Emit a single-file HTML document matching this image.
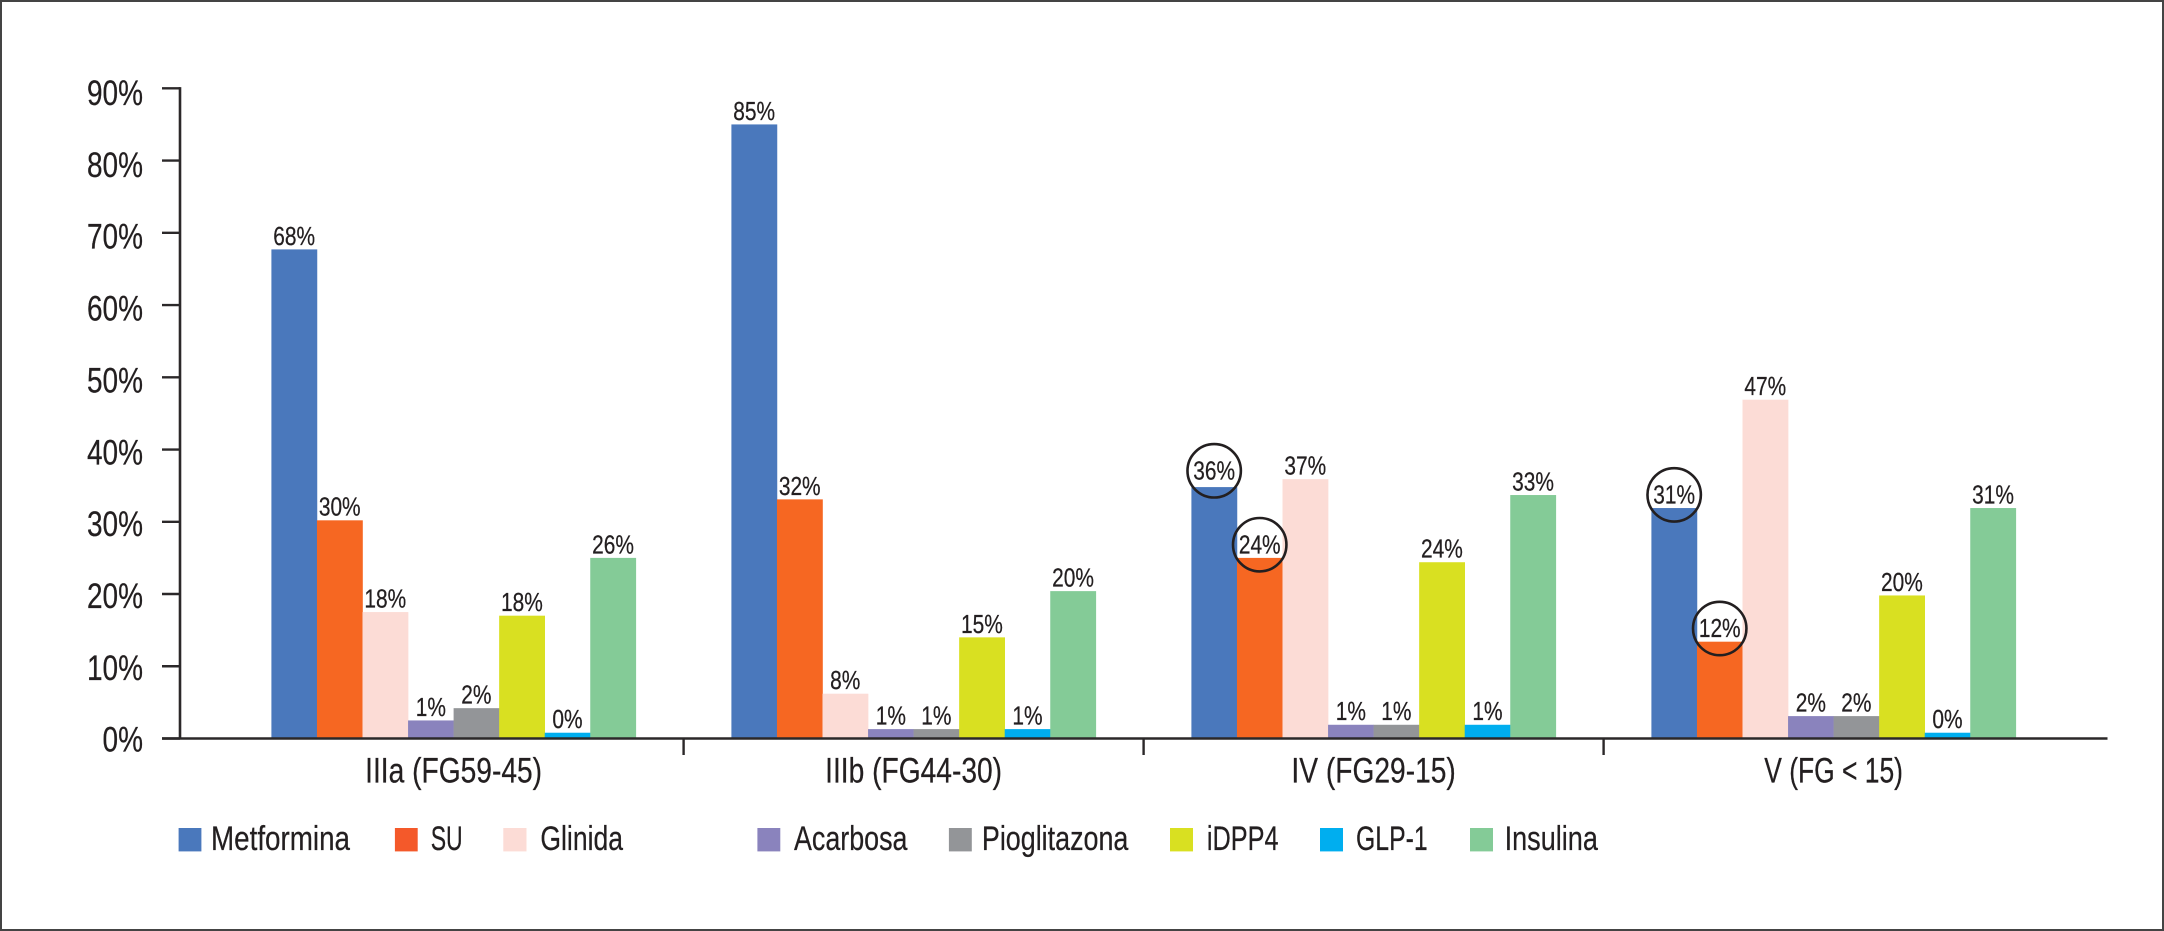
<!DOCTYPE html>
<html lang="es">
<head>
<meta charset="utf-8">
<title>Antidiabéticos por estadio de FG</title>
<style>
  html, body { margin: 0; padding: 0; background: #fff; }
  svg { display: block; font-family: "Liberation Sans", Arial, sans-serif; fill: #231f20; }
  text { stroke: #231f20; stroke-width: 0.25; }
</style>
</head>
<body>
<svg id="chart" xmlns="http://www.w3.org/2000/svg" width="2164" height="931" viewBox="0 0 2164 931">
  <rect x="1" y="1" width="2162" height="929" fill="#fff" stroke="#444" stroke-width="2"/>
  <g id="bars"></g>
  <g id="axes"></g>
  <g id="labels"></g>
  <g font-size="34">
    <g><rect x="178.6" y="828" width="22.8" height="23.4" fill="#4a78bc"/><text x="211" y="850" textLength="139" lengthAdjust="spacingAndGlyphs">Metformina</text></g>
    <g><rect x="394.9" y="828" width="22.8" height="23.4" fill="#f4592a"/><text x="430.7" y="850" textLength="32" lengthAdjust="spacingAndGlyphs">SU</text></g>
    <g><rect x="503.3" y="828" width="23.2" height="23.4" fill="#fcdcd6"/><text x="540.4" y="850" textLength="82.6" lengthAdjust="spacingAndGlyphs">Glinida</text></g>
    <g><rect x="757.4" y="828" width="22.9" height="23.4" fill="#8a83bd"/><text x="794" y="850" textLength="113.5" lengthAdjust="spacingAndGlyphs">Acarbosa</text></g>
    <g><rect x="948.9" y="828" width="22.9" height="23.4" fill="#939598"/><text x="981.9" y="850" textLength="146.5" lengthAdjust="spacingAndGlyphs">Pioglitazona</text></g>
    <g><rect x="1170" y="828" width="23" height="23.4" fill="#d9e021"/><text x="1206.9" y="850" textLength="71.6" lengthAdjust="spacingAndGlyphs">iDPP4</text></g>
    <g><rect x="1320" y="828" width="23" height="23.4" fill="#00aeef"/><text x="1356" y="850" textLength="71.7" lengthAdjust="spacingAndGlyphs">GLP-1</text></g>
    <g><rect x="1470" y="828" width="23" height="23.4" fill="#84cb97"/><text x="1504.6" y="850" textLength="93.3" lengthAdjust="spacingAndGlyphs">Insulina</text></g>
  </g>
</svg>
<script>
const categories = ["IIIa (FG59-45)", "IIIb (FG44-30)", "IV (FG29-15)", "V (FG < 15)"];
const seriesNames = ["metformina", "su", "glinida", "acarbosa", "pioglitazona", "idpp4", "glp-1", "insulina"];
const metformina = [67.7, 85, 34.8, 31.9];
const su = [30.2, 33.1, 25, 13.4];
const glinida = [17.5, 6.2, 35.9, 46.9];
const acarbosa = [2.5, 1.3, 1.9, 3.1];
const pioglitazona = [4.2, 1.3, 1.9, 3.1];
const idpp4 = [17, 14, 24.4, 19.8];
const glp1 = [0.8, 1.3, 1.9, 0.8];
const insulina = [25, 20.4, 33.7, 31.9];
const metforminaLabels = ["68%", "85%", "36%", "31%"];
const suLabels = ["30%", "32%", "24%", "12%"];
const glinidaLabels = ["18%", "8%", "37%", "47%"];
const acarbosaLabels = ["1%", "1%", "1%", "2%"];
const pioglitazonaLabels = ["2%", "1%", "1%", "2%"];
const idpp4Labels = ["18%", "15%", "24%", "20%"];
const glp1Labels = ["0%", "1%", "1%", "0%"];
const insulinaLabels = ["26%", "20%", "33%", "31%"];
const yTicks = [0, 10, 20, 30, 40, 50, 60, 70, 80, 90];
const yTickLabels = ["0%", "10%", "20%", "30%", "40%", "50%", "60%", "70%", "80%", "90%"];
const circledGroups = [2, 2, 3, 3];
const circledSeries = [0, 1, 0, 1];

const seriesValues = [metformina, su, glinida, acarbosa, pioglitazona, idpp4, glp1, insulina];
const seriesLabels = [metforminaLabels, suLabels, glinidaLabels, acarbosaLabels, pioglitazonaLabels, idpp4Labels, glp1Labels, insulinaLabels];
const seriesColors = ["#4a78bc", "#f66722", "#fcdcd6", "#8a83bd", "#939598", "#d9e021", "#00aeef", "#84cb97"];

const NS = "http://www.w3.org/2000/svg";
const y0 = 738.5, yTop = 88.3, yMax = 90;
const groupStart = 271.4, groupStep = 460, barW = 45.55;
const yScale = v => y0 - (v / yMax) * (y0 - yTop);
const yLabelScale = v => 751.7 - (v / yMax) * (751.7 - 105);
const xBar = (g, s) => groupStart + g * groupStep + s * barW;

function make(tag, parent, attrs) {
  const el = document.createElementNS(NS, tag);
  for (const k in attrs) el.setAttribute(k, attrs[k]);
  parent.appendChild(el);
  return el;
}
function scaledText(parent, str, x, y, size, sx, anchor) {
  const el = make("text", parent, {
    transform: "translate(" + x + " " + y + ") scale(" + sx + " 1)",
    "font-size": size,
    "text-anchor": anchor
  });
  el.textContent = str;
  return el;
}

const barsG = document.getElementById("bars");
const axesG = document.getElementById("axes");
const labelsG = document.getElementById("labels");

seriesValues.forEach((vals, s) => {
  vals.forEach((v, g) => {
    const bar = make("rect", barsG, {
      x: xBar(g, s), y: yScale(v), width: barW + 0.3, height: y0 - yScale(v), fill: seriesColors[s]
    });
    
    

    const lift = (g === 2 && s === 0) ? 7.7 : 4.6;
    const cx = xBar(g, s) + barW / 2;
    const lab = scaledText(labelsG, seriesLabels[s][g], cx, yScale(v) - lift, 25.5, 0.82, "middle");
    
    

    const isCircled = circledGroups.some((cg, i) => cg === g && circledSeries[i] === s);
    if (isCircled) {
      const ring = make("circle", labelsG, {
        cx: cx, cy: yScale(v) - lift - 8.6, r: 26.7, fill: "none", stroke: "#231f20", "stroke-width": 2.6
      });
      
      
    }
  });
});

const yAxisLine = make("line", axesG, { x1: 180, x2: 180, y1: yTop - 1.2, y2: y0, stroke: "#2b2829", "stroke-width": 2.6 });



const xAxisLine = make("line", axesG, { x1: 162, x2: 2107.5, y1: y0, y2: y0, stroke: "#2b2829", "stroke-width": 2.6 });



yTicks.forEach((t, i) => {
  const tick = make("line", axesG, { x1: 162, x2: 180, y1: yScale(t), y2: yScale(t), stroke: "#2b2829", "stroke-width": 2.4 });
  
  
  const lab = scaledText(axesG, yTickLabels[i], 143, yLabelScale(t), 35, 0.8, "end");
  
  
});

categories.forEach((c, g) => {
  const cx = groupStart + g * groupStep + 4 * barW;
  const lab = scaledText(axesG, c, cx, 782.7, 35, g === 3 ? 0.755 : 0.805, "middle");
  
  
  if (g < categories.length - 1) {
    const tx = cx + 230;
    const tick = make("line", axesG, { x1: tx, x2: tx, y1: y0, y2: 755, stroke: "#2b2829", "stroke-width": 2.4 });
    
    
  }
});
</script>
</body>
</html>
